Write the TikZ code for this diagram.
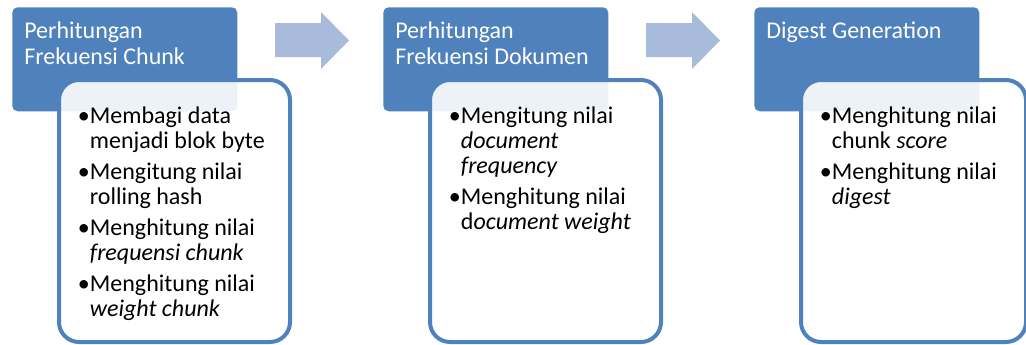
\documentclass[tikz,border=0pt]{standalone}
\usepackage{fontspec}
\setmainfont{Carlito}
\usepackage{xcolor}
\usetikzlibrary{positioning}

\definecolor{headblue}{RGB}{79,129,189}
\definecolor{arrowblue}{RGB}{169,187,218}

% bullet with hanging indent
\newcommand{\bul}{\makebox[9pt][l]{\textbullet}}
\newcommand{\hang}{\hspace*{9pt}}

\begin{document}
\begin{tikzpicture}[x=0.75pt, y=-0.75pt,
	head/.style={fill=headblue, rounded corners=4pt, anchor=north west,
		minimum width=168.75pt, minimum height=78pt, inner sep=0pt},
	card/.style={draw=headblue, line width=3pt, fill=white, fill opacity=0.9,
		draw opacity=1, rounded corners=15pt, anchor=north west,
		minimum width=173.25pt, minimum height=196.5pt, inner sep=0pt},
	title/.style={anchor=north west, inner sep=0pt, align=left, text=white,
		font=\fontsize{18pt}{19.5pt}\selectfont},
	items/.style={anchor=north west, inner sep=0pt, align=left,
		font=\fontsize{18pt}{18.75pt}\selectfont}]
	\useasboundingbox (0,0) rectangle (1026,344);

	% step headers and arrows
	\foreach \i/\x in {1/0, 2/371, 3/742}{
		\node[head] (h\i) at (12+\x,7) {};
	};
	\foreach \x in {0, 371}{
		\fill[arrowblue] (275+\x,23) -- (321+\x,23) -- (321+\x,12) -- (349+\x,40.5)
			-- (321+\x,69) -- (321+\x,57) -- (275+\x,57) -- cycle;
	};

	% detail cards
	\node[card] (b1) at (57,78) {};
	\node[card] (b2) at (428,78) {};
	\node[card, minimum width=168.75pt] (b3) at (799,78) {};

	\node[title] (t1) at ([xshift=9pt,yshift=-11pt]h1.north west) {Perhitungan\\Frekuensi Chunk};
	\node[title] (t2) at ([xshift=9pt,yshift=-11pt]h2.north west) {Perhitungan\\Frekuensi Dokumen};
	\node[title] (t3) at ([xshift=9pt,yshift=-11pt]h3.north west) {Digest Generation};

	\node[items] (l1) at ([xshift=15.5pt,yshift=-21.5pt]b1.north west) {%
		\bul Membagi data\\ \hang menjadi blok byte\\[4.5pt]
		\bul Mengitung nilai\\ \hang rolling hash\\[4.5pt]
		\bul Menghitung nilai\\ \hang\textit{frequensi chunk}\\[4.5pt]
		\bul Menghitung nilai\\ \hang\textit{weight chunk}};
	\node[items] (l2) at ([xshift=15.5pt,yshift=-21.5pt]b2.north west) {%
		\bul Mengitung nilai\\ \hang\textit{document}\\ \hang\textit{frequency}\\[4.5pt]
		\bul Menghitung nilai\\ \hang d\textit{ocument weight}};
	\node[items] (l3) at ([xshift=15.5pt,yshift=-21.5pt]b3.north west) {%
		\bul Menghitung nilai\\ \hang chunk \textit{score}\\[4.5pt]
		\bul Menghitung nilai\\ \hang\textit{digest}};
\end{tikzpicture}
\end{document}
